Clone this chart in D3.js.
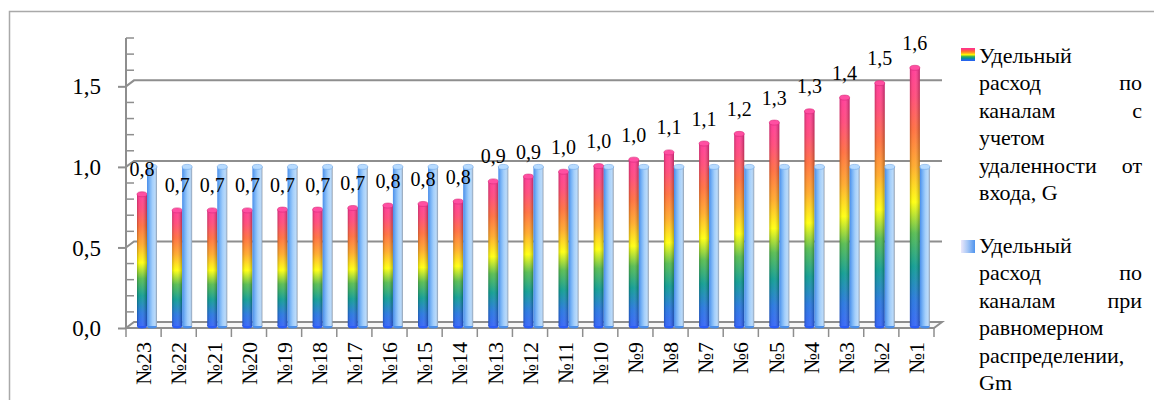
<!DOCTYPE html>
<html>
<head>
<meta charset="utf-8">
<script src="https://cdn.jsdelivr.net/npm/d3@7"></script>
<style>
  html, body { margin: 0; padding: 0; background: #fff; }
  svg { display: block; }
</style>
</head>
<body>
<svg id="chart" width="1154" height="400"></svg>
<script>
// Channels, from the farthest to the nearest to the inlet
const channels = ["№23", "№22", "№21", "№20", "№19", "№18", "№17", "№16", "№15", "№14", "№13", "№12",
                  "№11", "№10", "№9", "№8", "№7", "№6", "№5", "№4", "№3", "№2", "№1"];
// Specific flow per channel accounting for distance from the inlet, G
const flowByDistance = [0.83, 0.73, 0.73, 0.73, 0.735, 0.735, 0.745, 0.76, 0.77, 0.785, 0.91, 0.94,
                        0.97, 1.005, 1.045, 1.09, 1.145, 1.205, 1.275, 1.345, 1.43, 1.52, 1.615];
// Specific flow per channel with uniform distribution, Gm
const flowUniform = [1.0, 1.0, 1.0, 1.0, 1.0, 1.0, 1.0, 1.0, 1.0, 1.0, 1.0, 1.0,
                     1.0, 1.0, 1.0, 1.0, 1.0, 1.0, 1.0, 1.0, 1.0, 1.0, 1.0];
const yTicks = [0, 0.5, 1.0, 1.5];
const yMax = 1.8;
const legendG = [["Удельный"], ["расход", "по"], ["каналам", "с"], ["учетом"], ["удаленности", "от"], ["входа,", "G"]];
const legendGm = [["Удельный"], ["расход", "по"], ["каналам", "при"], ["равномерном"], ["распределении,"], ["Gm"]];

const fmt = d3.formatLocale({decimal: ",", thousands: " ", grouping: [3], currency: ["", ""]}).format(".1f");

const svg = d3.select("#chart");
const X0 = 126, X1 = 934, Y0 = 328, Y1 = 38;
const DX = 8, DY = -6;            // depth offset of the back wall
const axisColor = "#8e8e8e";

// serif face and size for a text selection
const face = (sel, px) => sel.attr("style", `font-family:'Liberation Serif' !important;font-size:${px}px`);

const x = d3.scaleBand().domain(channels).range([X0, X1]);
const xs = d3.scaleBand().domain(["G", "Gm"]).range([11, 31]);
const y = d3.scaleLinear().domain([0, yMax]).range([Y0, Y1]);

// ---- gradients
const defs = svg.append("defs");
const rainbow = defs.append("linearGradient").attr("id", "rainbow")
  .attr("x1", 0).attr("y1", 1).attr("x2", 0).attr("y2", 0);
[[0, "#2a5cf6"], [0.1, "#1c6fdc"], [0.23, "#03978c"], [0.36, "#4db846"], [0.48, "#ffff00"],
 [0.62, "#ffa41e"], [0.76, "#ff6633"], [0.89, "#ff3f72"], [1, "#ff2f92"]]
  .forEach(([o, c]) => rainbow.append("stop").attr("offset", o).attr("stop-color", c));

const shade = defs.append("linearGradient").attr("id", "shade").attr("x1", 0).attr("x2", 1).attr("y1", 0).attr("y2", 0);
[[0, "#000", 0.22], [0.3, "#fff", 0.08], [0.55, "#fff", 0.12], [1, "#000", 0.28]]
  .forEach(([o, c, a]) => shade.append("stop").attr("offset", o).attr("stop-color", c).attr("stop-opacity", a));

const blueBar = defs.append("linearGradient").attr("id", "blueBar").attr("x1", 0).attr("x2", 1).attr("y1", 0).attr("y2", 0);
[[0, "#4a8eea"], [0.3, "#7cb6f6"], [0.55, "#a4cffb"], [0.8, "#b9dafa"], [0.9, "#a9c4e2"], [1, "#8a96a4"]]
  .forEach(([o, c]) => blueBar.append("stop").attr("offset", o).attr("stop-color", c));

const blueKey = defs.append("linearGradient").attr("id", "blueKey").attr("x1", 0).attr("x2", 1).attr("y1", 0).attr("y2", 0);
[[0, "#ece8fb"], [0.45, "#a9c8f6"], [1, "#4f94ee"]]
  .forEach(([o, c]) => blueKey.append("stop").attr("offset", o).attr("stop-color", c));

// ---- outer chart frame
svg.append("rect").attr("x", 9.5).attr("y", 11.5).attr("width", 1300).attr("height", 600)
  .attr("fill", "none").attr("stroke", "#a9a9a9").attr("stroke-width", 1.5);

// ---- back wall gridlines
const grid = svg.append("g").attr("fill", "none").attr("stroke", axisColor).attr("stroke-width", 2);
yTicks.filter(t => t > 0).forEach(t => {
  grid.append("path").attr("d", `M${X0},${y(t)}L${X0 + DX},${y(t) + DY}L${X1 + DX},${y(t) + DY}`);
});

// ---- floor
grid.append("path").attr("fill", "#f7f7f7")
  .attr("d", `M${X0},${Y0}L${X1},${Y0}L${X1 + DX},${Y0 + DY}L${X0 + DX},${Y0 + DY}Z`);

// ---- x tick marks at category boundaries
const bounds = channels.map(c => x(c)).concat([X1]);
svg.append("g").attr("stroke", axisColor).attr("stroke-width", 1.5)
  .selectAll("line").data(bounds).join("line")
  .attr("x1", d => d).attr("x2", d => d).attr("y1", Y0).attr("y2", Y0 + 9);

// ---- bars
const bottom = Y0 - 2;
const bw = xs.bandwidth();
function drawSeries(values, key, fill, capFill, capStroke) {
  const g = svg.append("g");
  const cols = g.selectAll("g").data(values.map((v, i) => ({c: channels[i], v}))).join("g")
    .attr("transform", d => `translate(${x(d.c) + xs(key)},0)`);
  cols.append("ellipse").attr("cx", bw / 2).attr("cy", bottom).attr("rx", bw / 2).attr("ry", 2.5)
    .attr("fill", key === "G" ? "#2a5cf6" : "#4a8eea");
  cols.append("rect").attr("x", 0).attr("width", bw)
    .attr("y", d => y(d.v)).attr("height", d => bottom - y(d.v)).attr("fill", fill);
  if (key === "G") {
    cols.append("rect").attr("x", 0).attr("width", bw)
      .attr("y", d => y(d.v)).attr("height", d => bottom - y(d.v)).attr("fill", "url(#shade)");
  }
  cols.append("ellipse").attr("cx", bw / 2).attr("cy", d => y(d.v)).attr("rx", bw / 2).attr("ry", 2.5)
    .attr("fill", capFill).attr("stroke", capStroke).attr("stroke-width", 0.6);
}
drawSeries(flowByDistance, "G", "url(#rainbow)", "#ff4fa2", "#d92a78");
drawSeries(flowUniform, "Gm", "url(#blueBar)", "#b7dbff", "#6fa6e6");

// ---- y axis
const yAxisG = svg.append("g").attr("transform", `translate(${X0},0)`)
  .call(d3.axisLeft(y).tickValues(yTicks).tickSize(8).tickPadding(17).tickFormat(fmt))
  .attr("font-family", "Liberation Serif").attr("font-size", 23);
yAxisG.select(".domain").remove();
yAxisG.selectAll(".tick line").attr("stroke", axisColor).attr("stroke-width", 2);
yAxisG.selectAll(".tick text").call(face, 23).attr("fill", "#000").attr("dy", "0.33em");
svg.append("line").attr("x1", X0).attr("x2", X0).attr("y1", Y1).attr("y2", Y0)
  .attr("stroke", axisColor).attr("stroke-width", 2);
const minor = d3.range(1, Math.round(yMax * 10) + 1).map(i => i / 10).filter(v => Math.round(v * 10) % 5 !== 0);
svg.append("g").attr("stroke", axisColor).attr("stroke-width", 1.5)
  .selectAll("line").data(minor).join("line")
  .attr("x1", X0).attr("x2", X0 + DX).attr("y1", d => y(d)).attr("y2", d => y(d));

// ---- x axis labels
const xAxisG = svg.append("g").attr("transform", `translate(0,${Y0})`)
  .call(d3.axisBottom(x).tickSize(0).tickPadding(0))
  .attr("font-family", "Liberation Serif").attr("font-size", 22);
xAxisG.select(".domain").remove();
xAxisG.selectAll(".tick text").call(face, 22).attr("fill", "#000")
  .attr("transform", "rotate(-90)").attr("text-anchor", "end")
  .attr("x", -14).attr("y", 0).attr("dy", "0.35em");

// ---- data labels
svg.append("g").attr("text-anchor", "middle").attr("fill", "#000")
  .selectAll("text").data(flowByDistance.map((v, i) => ({c: channels[i], v}))).join("text")
  .call(face, 20)
  .attr("x", d => x(d.c) + xs("G") + bw / 2)
  .attr("y", d => y(d.v) - 18)
  .text(d => fmt(d.v));

// ---- legend
const LX = 979, LR = 1142, lineH = 27.4;
function legendBlock(lines, top, keyFill, keyY) {
  svg.append("rect").attr("x", 961).attr("y", keyY).attr("width", 14).attr("height", 13).attr("fill", keyFill);
  const g = svg.append("g").attr("fill", "#000");
  const put = (xx, yy, s) => g.append("text").attr("x", xx).attr("y", yy).call(face, 22).text(s);
  lines.forEach((words, i) => {
    const yy = top + i * lineH;
    const justify = i < lines.length - 1 && words.length > 1;
    if (justify) {
      put(LX, yy, words[0]);
      put(LR, yy, words[words.length - 1]).attr("text-anchor", "end");
    } else {
      put(LX, yy, words.join(" "));
    }
  });
}
legendBlock(legendG, 63, "url(#rainbow)", 48);
legendBlock(legendGm, 253, "url(#blueKey)", 240);
</script>
</body>
</html>
